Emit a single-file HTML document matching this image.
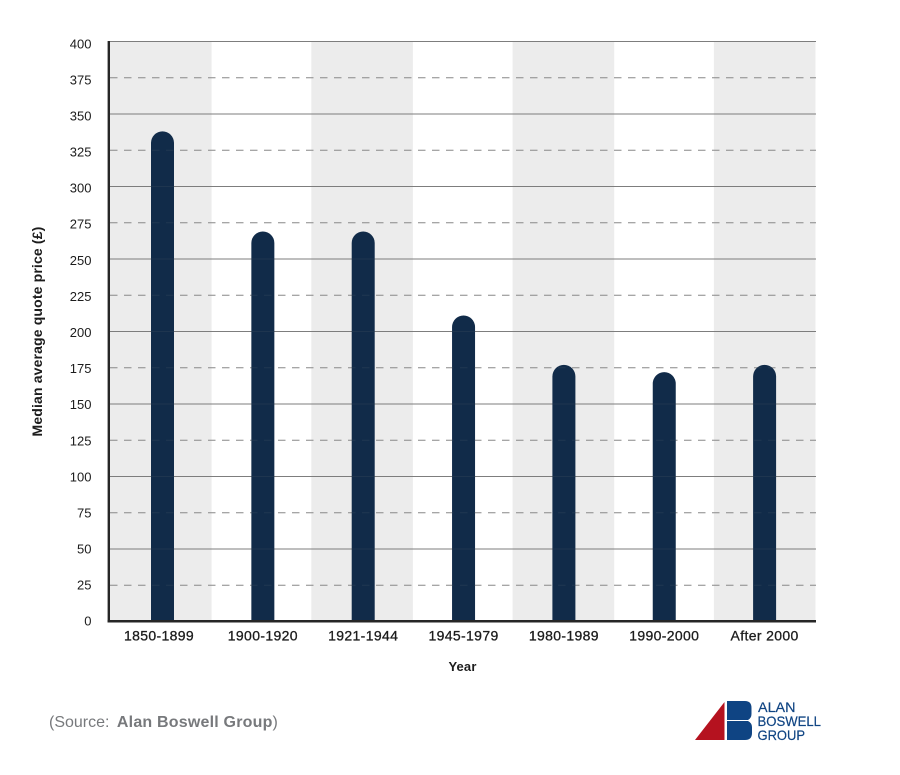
<!DOCTYPE html>
<html lang="en">
<head>
<meta charset="utf-8">
<title>Median average quote price by year</title>
<style>
  html, body { margin: 0; padding: 0; background: #fff; }
  body { width: 900px; height: 775px; overflow: hidden; }
  svg { display: block; font-family: "Liberation Sans", sans-serif; }
</style>
</head>
<body>
<svg id="chart" width="900" height="775" viewBox="0 0 900 775" xmlns="http://www.w3.org/2000/svg">
  <g id="bands"></g>
  <g id="grid"></g>
  <g id="bars"></g>
  <g id="gridover" opacity="0.12"></g>
  <g id="yticks"></g>
  <g id="xticks"></g>
  <line x1="108.8" y1="41" x2="108.8" y2="622.5" stroke="#262626" stroke-width="2.4"/>
  <line x1="107.6" y1="621.3" x2="816" y2="621.3" stroke="#262626" stroke-width="2.5"/>
  <text transform="translate(42 331.5) rotate(-90)" text-anchor="middle" font-size="14" letter-spacing="0.15" font-weight="bold" fill="#1c1c1c">Median average quote price (£)</text>
  <text x="462.5" y="671" text-anchor="middle" font-size="13" letter-spacing="0.15" font-weight="bold" fill="#1c1c1c">Year</text>
  <text x="49" y="727" font-size="16" fill="#77797c">(Source: <tspan dx="3" font-weight="bold" letter-spacing="0.2">Alan Boswell Group</tspan><tspan>)</tspan></text>
  <g>
    <polygon points="695,740 724.5,702 724.5,740" fill="#b5121f"/>
    <path d="M727 701 H745 Q751.5 701 751.5 708 V714 Q751.5 718 748 720 H727 Z" fill="#0f4483"/>
    <path d="M727 721 H748 Q752 723 752 727 V733 Q752 740 745 740 H727 Z" fill="#0f4483"/>
    <text x="758" y="712" font-size="14" fill="#0f4483" stroke="#0f4483" stroke-width="0.2" textLength="37.5" lengthAdjust="spacingAndGlyphs">ALAN</text>
    <text x="757.5" y="726" font-size="14" fill="#0f4483" stroke="#0f4483" stroke-width="0.2" textLength="63.5" lengthAdjust="spacingAndGlyphs">BOSWELL</text>
    <text x="757.5" y="740" font-size="14" fill="#0f4483" stroke="#0f4483" stroke-width="0.2" textLength="47.5" lengthAdjust="spacingAndGlyphs">GROUP</text>
  </g>
</svg>
<script>
const categories = ["1850-1899", "1900-1920", "1921-1944", "1945-1979", "1980-1989", "1990-2000", "After 2000"];
const medianQuotePrice = [338, 269, 269, 211, 177, 172, 177];
const yTickLabels = [0, 25, 50, 75, 100, 125, 150, 175, 200, 225, 250, 275, 300, 325, 350, 375, 400];

const NS = "http://www.w3.org/2000/svg";
const yMax = 400;
const plotTop = 41.5, plotBottom = 621.5, plotLeft = 110, plotRight = 816;
const barWidth = 23;
const bandStep = 100.65, bandWidth = 101.6;

function yScale(v) { return plotBottom - (v / yMax) * (plotBottom - plotTop); }
function xCenter(i) { return 162.5 + i * 100.35; }
function xLabel(i) { return xCenter(i) + (i === 0 ? -3.5 : 0); }
function make(tag, attrs, parent) {
  const el = document.createElementNS(NS, tag);
  for (const k in attrs) el.setAttribute(k, attrs[k]);
  parent.appendChild(el);
  return el;
}

const bandsG = document.getElementById("bands");
categories.forEach((c, i) => {
  if (i % 2 === 0) {
    const band = make("rect", { x: plotLeft + i * bandStep, y: plotTop, width: bandWidth, height: plotBottom - plotTop, fill: "#ececec" }, bandsG);
    
    
  }
});

const gridG = document.getElementById("grid");
const gridOverG = document.getElementById("gridover");
const yG = document.getElementById("yticks");
yTickLabels.forEach((v, i) => {
  const y = yScale(v);
  if (v > 0) {
    const solid = i % 2 === 0;
    const attrs = { x1: plotLeft, x2: plotRight, y1: y, y2: y, stroke: solid ? "#7d7d7d" : "#8c8c8c", "stroke-width": 1, "stroke-dasharray": solid ? "none" : "7.5 6.5" };
    const line = make("line", attrs, gridG);
    
    
    const over = make("line", attrs, gridOverG);
    
    
  }
  const t = make("text", { x: 91.5, y: y + 4.2 + (v / yMax) * 2.6, "text-anchor": "end", "font-size": 13, fill: "#1c1c1c" }, yG);
  t.textContent = v;
  
  
});

const barsG = document.getElementById("bars");
medianQuotePrice.forEach((v, i) => {
  const cx = xCenter(i), top = yScale(v), r = barWidth / 2, bottom = plotBottom;
  const d = `M${cx - r} ${bottom} V${top + r} A${r} ${r} 0 0 1 ${cx + r} ${top + r} V${bottom} Z`;
  const bar = make("path", { d: d, fill: "#112b49" }, barsG);
  
  
});

const xG = document.getElementById("xticks");
categories.forEach((c, i) => {
  const t = make("text", { x: xLabel(i), y: 640.5, "text-anchor": "middle", "font-size": 14, "letter-spacing": 0.35, stroke: "#1c1c1c", "stroke-width": 0.3, fill: "#1c1c1c" }, xG);
  t.textContent = c;
  
  
});
</script>
</body>
</html>
